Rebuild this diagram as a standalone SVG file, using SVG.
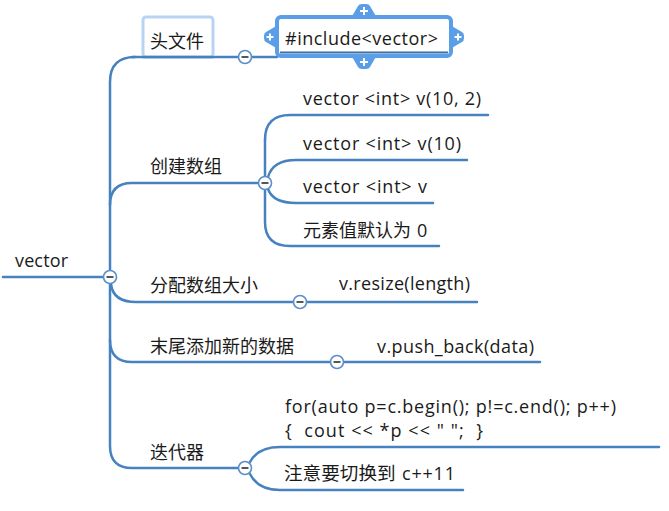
<svg xmlns="http://www.w3.org/2000/svg" width="669" height="511" viewBox="0 0 669 511">
<style>
.ln{fill:none;stroke:#4682c0;stroke-width:2.5;stroke-linecap:round}
.t{font-family:"Open Sans","Noto Sans CJK SC",sans-serif;font-size:18px;fill:#1a1a1a;white-space:pre}
.c{font-family:"Noto Sans CJK SC","Open Sans",sans-serif;font-size:18px;fill:#1a1a1a}
.col circle{fill:#fff;stroke:#5a8fc8;stroke-width:1.6}
.col line{stroke:#444;stroke-width:1.8}
.hd{fill:#5a9ee8}
.pl{stroke:#fff;stroke-width:2}
</style>
<rect width="669" height="511" fill="#fff"/>
<g id="connectors">
<path class="ln" d="M3,277 H104"/>
<path class="ln" d="M135,57 Q110,57 110,82 L110,446 Q110,468 132,468 H238"/>
<path class="ln" d="M132,57 H238 M252,57 H277"/>
<path class="ln" d="M110,205 Q110,183 132,183 H258"/>
<path class="ln" d="M265,140 Q265,115 290,115 H488"/>
<path class="ln" d="M268,177 Q273,160 296,160 H467"/>
<path class="ln" d="M268,189 Q273,203 296,203 H433"/>
<path class="ln" d="M265,190 L265,222 Q265,246 290,246 H439"/>
<path class="ln" d="M265,140 L265,176"/>
<path class="ln" d="M111,284 Q113,302 136,302 H293"/>
<path class="ln" d="M307,302 H477"/>
<path class="ln" d="M110,340 Q110,362 132,362 H330"/>
<path class="ln" d="M344,362 H540"/>
<path class="ln" d="M250,462 Q258,447 280,447 H659"/>
<path class="ln" d="M250,474 Q258,490 280,490 H463"/>
</g>
<g id="root"><text class="t" x="15" y="267" textLength="53">vector</text></g>
<g id="n-header">
<rect x="143" y="17" width="70" height="40" rx="3" fill="#fff" stroke="#b8d3f3" stroke-width="3"/>
<path class="ln" d="M143,57 H213"/>
<text class="c" x="150" y="48">头文件</text>
</g>
<g id="n-include">
<path class="hd" d="M351,18 L358,6 Q359,4 362,4 L366,4 Q369,4 370,6 L377,18 Z"/>
<path class="hd" d="M351,55 L358,67 Q359,69 362,69 L366,69 Q369,69 370,67 L377,55 Z"/>
<path class="hd" d="M278,25 L266,32 Q264,33 264,36 L264,38 Q264,41 266,42 L278,49 Z"/>
<path class="hd" d="M450,25 L462,32 Q464,33 464,36 L464,38 Q464,41 462,42 L450,49 Z"/>
<rect x="277" y="17" width="174" height="39" rx="4" fill="#fff" stroke="#5a9ee8" stroke-width="4"/>
<path d="M280,52.5 H448" stroke="#3b6fa6" stroke-width="2"/>
<path class="pl" d="M360,11 H368 M364,7 V15 M360,62 H368 M364,58 V66 M266.5,37 H273.5 M270,33.5 V40.5 M454.5,37 H461.5 M458,33.5 V40.5"/>
<text class="t" x="285" y="45" textLength="153">#include&lt;vector&gt;</text>
</g>
<g id="n-create"><text class="c" x="150" y="173">创建数组</text></g>
<g id="n-v102"><text class="t" x="303" y="105" textLength="178">vector &lt;int&gt; v(10, 2)</text></g>
<g id="n-v10"><text class="t" x="303" y="150" textLength="158">vector &lt;int&gt; v(10)</text></g>
<g id="n-v"><text class="t" x="303" y="193" textLength="124">vector &lt;int&gt; v</text></g>
<g id="n-default"><text class="c" x="303" y="237">元素值默认为 <tspan class="t" x="417">0</tspan></text></g>
<g id="n-alloc"><text class="c" x="150" y="292">分配数组大小</text></g>
<g id="n-resize"><text class="t" x="339" y="290" textLength="131">v.resize(length)</text></g>
<g id="n-append"><text class="c" x="150" y="353">末尾添加新的数据</text></g>
<g id="n-push"><text class="t" x="377" y="353" textLength="157">v.push_back(data)</text></g>
<g id="n-iter"><text class="c" x="150" y="459">迭代器</text></g>
<g id="n-for">
<text class="t" x="285" y="413" textLength="331">for(auto p=c.begin(); p!=c.end(); p++)</text>
<text class="t" x="285" y="437" textLength="198">{  cout &lt;&lt; *p &lt;&lt; " ";  }</text>
</g>
<g id="n-note"><text class="c" x="284" y="480" style="font-size:18.6px">注意要切换到 <tspan class="t" x="402" textLength="53">c++11</tspan></text></g>
<g id="collapse" class="col">
<circle cx="110" cy="277" r="6.5"/><line x1="106.5" y1="277" x2="113.5" y2="277"/>
<circle cx="245" cy="57" r="6.5"/><line x1="241.5" y1="57" x2="248.5" y2="57"/>
<circle cx="265" cy="183" r="6.5"/><line x1="261.5" y1="183" x2="268.5" y2="183"/>
<circle cx="300" cy="302" r="6.5"/><line x1="296.5" y1="302" x2="303.5" y2="302"/>
<circle cx="337" cy="362" r="6.5"/><line x1="333.5" y1="362" x2="340.5" y2="362"/>
<circle cx="245" cy="468" r="6.5"/><line x1="241.5" y1="468" x2="248.5" y2="468"/>
</g>
</svg>
